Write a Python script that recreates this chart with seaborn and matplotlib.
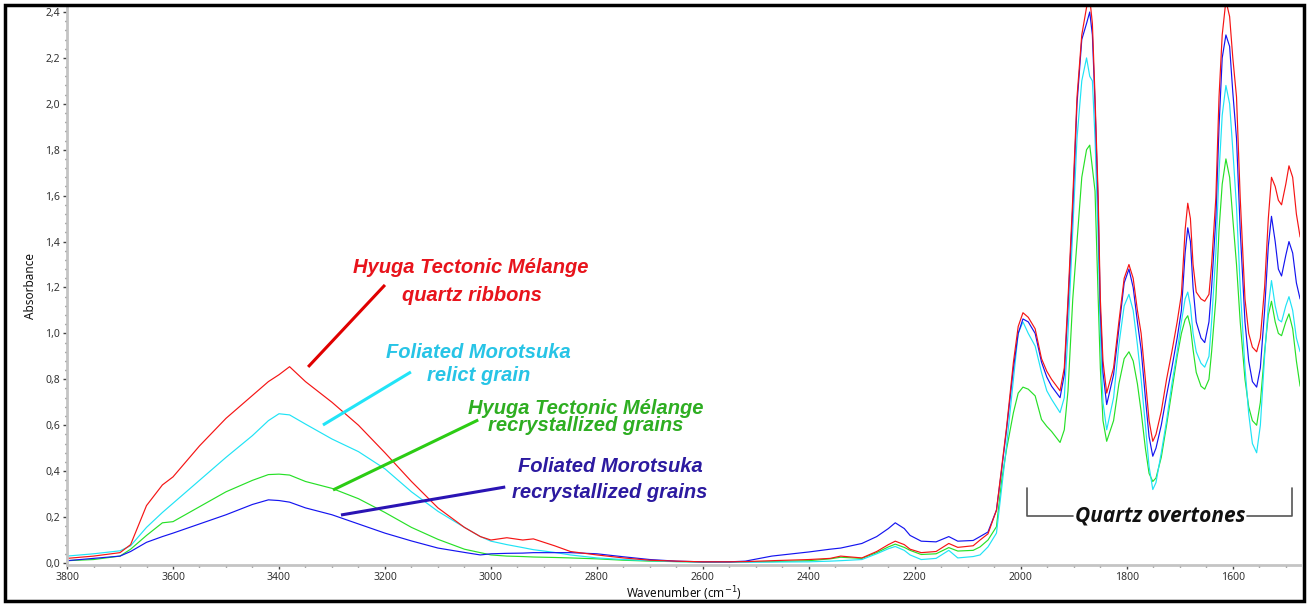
import numpy as np
import pandas as pd
import matplotlib
matplotlib.use("Agg")
import matplotlib.pyplot as plt
import matplotlib.ticker as mticker
from matplotlib.patches import Rectangle
import seaborn as sns

# Spectra (wavenumber in cm-1, absorbance)
wavenumber = [
    3800, 3750, 3700, 3680, 3650, 3620, 3600, 3550, 3500, 3450, 3420, 3400, 3380, 3350,
    3300, 3250, 3200, 3150, 3100, 3050, 3020, 3000, 2970, 2940, 2920, 2880, 2850, 2800,
    2750, 2700, 2650, 2600, 2550, 2520, 2470, 2400, 2360, 2340, 2300, 2272, 2250, 2237,
    2220, 2209, 2188, 2160, 2136, 2119, 2090, 2077, 2062, 2046, 2036, 2027, 2014, 2005,
    1996, 1986, 1973, 1961, 1951, 1942, 1926, 1918, 1911, 1902, 1894, 1885, 1876, 1870,
    1865, 1860, 1854, 1850, 1845, 1838, 1825, 1815, 1805, 1796, 1788, 1780, 1773, 1765,
    1758, 1751, 1745, 1735, 1725, 1715, 1705, 1697, 1690, 1685, 1680, 1675, 1669, 1660,
    1653, 1645, 1640, 1632, 1626, 1620, 1613, 1606, 1600, 1593, 1586, 1577, 1570, 1563,
    1555, 1548, 1540, 1533, 1527, 1520, 1514, 1508, 1500, 1494, 1487, 1480, 1473,
]

hyuga_ribbons = [
    0.02, 0.03, 0.045, 0.08, 0.25, 0.34, 0.375, 0.51, 0.63, 0.73, 0.79, 0.82, 0.855, 0.79,
    0.70, 0.60, 0.48, 0.355, 0.24, 0.155, 0.115, 0.10, 0.11, 0.10, 0.105, 0.075, 0.05, 0.035,
    0.022, 0.012, 0.008, 0.005, 0.005, 0.006, 0.01, 0.015, 0.02, 0.03, 0.022, 0.05, 0.08, 0.095,
    0.08, 0.06, 0.045, 0.05, 0.085, 0.068, 0.075, 0.10, 0.127, 0.23, 0.42, 0.59, 0.875, 1.03,
    1.09, 1.07, 1.02, 0.89, 0.835, 0.80, 0.75, 0.85, 1.15, 1.59, 2.03, 2.30, 2.42, 2.46,
    2.35, 2.03, 1.59, 1.15, 0.88, 0.74, 0.85, 1.05, 1.24, 1.30, 1.24, 1.10, 1.00, 0.80,
    0.62, 0.53, 0.56, 0.66, 0.80, 0.92, 1.05, 1.17, 1.45, 1.567, 1.50, 1.30, 1.18, 1.15,
    1.14, 1.17, 1.30, 1.59, 2.03, 2.30, 2.45, 2.38, 2.20, 2.03, 1.59, 1.15, 1.00, 0.94,
    0.92, 0.98, 1.20, 1.50, 1.68, 1.64, 1.58, 1.56, 1.65, 1.73, 1.68, 1.52, 1.42,
]

morotsuka_relict = [
    0.03, 0.04, 0.053, 0.075, 0.155, 0.22, 0.26, 0.36, 0.46, 0.555, 0.62, 0.65, 0.645, 0.605,
    0.54, 0.485, 0.41, 0.31, 0.225, 0.155, 0.115, 0.095, 0.08, 0.067, 0.058, 0.046, 0.035, 0.022,
    0.015, 0.01, 0.006, 0.004, 0.003, 0.003, 0.004, 0.005, 0.008, 0.01, 0.015, 0.04, 0.062, 0.072,
    0.055, 0.035, 0.015, 0.02, 0.055, 0.022, 0.028, 0.035, 0.07, 0.13, 0.33, 0.51, 0.80, 1.0,
    1.05, 1.0, 0.945, 0.83, 0.75, 0.713, 0.655, 0.72, 1.0, 1.45, 1.85, 2.10, 2.20, 2.12,
    2.10, 1.85, 1.40, 1.0, 0.70, 0.58, 0.72, 0.95, 1.12, 1.17, 1.10, 0.95, 0.80, 0.60,
    0.42, 0.32, 0.35, 0.48, 0.62, 0.78, 0.92, 1.05, 1.15, 1.18, 1.12, 1.0, 0.92, 0.87,
    0.853, 0.90, 1.05, 1.35, 1.70, 1.95, 2.08, 2.0, 1.80, 1.55, 1.20, 0.85, 0.65, 0.52,
    0.48, 0.60, 0.90, 1.12, 1.23, 1.12, 1.06, 1.05, 1.12, 1.16, 1.10, 0.98, 0.92,
]

hyuga_recryst = [
    0.01, 0.015, 0.03, 0.06, 0.12, 0.175, 0.18, 0.245, 0.31, 0.36, 0.385, 0.387, 0.383, 0.355,
    0.325, 0.28, 0.22, 0.155, 0.103, 0.06, 0.045, 0.035, 0.03, 0.028, 0.026, 0.024, 0.022, 0.018,
    0.012, 0.008, 0.006, 0.004, 0.004, 0.005, 0.006, 0.01, 0.018, 0.025, 0.02, 0.045, 0.07, 0.082,
    0.068, 0.055, 0.037, 0.04, 0.067, 0.052, 0.055, 0.07, 0.10, 0.158, 0.363, 0.495, 0.655, 0.74,
    0.766, 0.757, 0.728, 0.625, 0.595, 0.573, 0.525, 0.58, 0.75, 1.15, 1.40, 1.68, 1.80, 1.82,
    1.72, 1.62, 1.15, 0.85, 0.62, 0.53, 0.62, 0.78, 0.89, 0.92, 0.88, 0.78, 0.66, 0.50,
    0.39, 0.355, 0.37, 0.46, 0.60, 0.75, 0.90, 1.0, 1.06, 1.077, 1.03, 0.93, 0.83, 0.77,
    0.757, 0.80, 0.92, 1.15, 1.45, 1.65, 1.76, 1.68, 1.50, 1.30, 1.05, 0.80, 0.68, 0.62,
    0.60, 0.70, 0.92, 1.08, 1.14, 1.05, 1.00, 0.99, 1.05, 1.085, 1.02, 0.88, 0.77,
]

morotsuka_recryst = [
    0.01, 0.02, 0.03, 0.05, 0.09, 0.115, 0.13, 0.17, 0.21, 0.255, 0.275, 0.272, 0.265, 0.24,
    0.21, 0.17, 0.13, 0.096, 0.065, 0.046, 0.035, 0.04, 0.042, 0.043, 0.045, 0.045, 0.045, 0.04,
    0.027, 0.015, 0.008, 0.005, 0.005, 0.008, 0.03, 0.048, 0.06, 0.065, 0.085, 0.115, 0.15, 0.175,
    0.15, 0.12, 0.095, 0.092, 0.115, 0.095, 0.098, 0.115, 0.135, 0.23, 0.41, 0.58, 0.85, 1.0,
    1.063, 1.05, 1.0, 0.875, 0.81, 0.77, 0.72, 0.82, 1.12, 1.55, 2.0, 2.28, 2.35, 2.40,
    2.30, 2.0, 1.55, 1.10, 0.83, 0.69, 0.82, 1.02, 1.22, 1.28, 1.20, 1.05, 0.93, 0.72,
    0.55, 0.465, 0.50, 0.60, 0.73, 0.85, 0.98, 1.10, 1.35, 1.46, 1.40, 1.20, 1.05, 0.98,
    0.96, 1.05, 1.20, 1.50, 1.90, 2.20, 2.30, 2.25, 2.05, 1.85, 1.45, 1.05, 0.88, 0.79,
    0.766, 0.85, 1.10, 1.38, 1.51, 1.40, 1.28, 1.25, 1.34, 1.40, 1.35, 1.22, 1.15,
]

sample_names = ["hyuga_recryst", "morotsuka_relict", "morotsuka_recryst", "hyuga_ribbons"]
line_colors = ["#27e027", "#1fe3f5", "#1414f0", "#f51414"]

y_ticks = [0.0, 0.2, 0.4, 0.6, 0.8, 1.0, 1.2, 1.4, 1.6, 1.8, 2.0, 2.2, 2.4]
y_tick_labels = ["0,0", "0,2", "0,4", "0,6", "0,8", "1,0", "1,2", "1,4", "1,6", "1,8", "2,0", "2,2", "2,4"]
x_ticks = [3800, 3600, 3400, 3200, 3000, 2800, 2600, 2400, 2200, 2000, 1800, 1600]

series = {
    "hyuga_recryst": hyuga_recryst,
    "morotsuka_relict": morotsuka_relict,
    "morotsuka_recryst": morotsuka_recryst,
    "hyuga_ribbons": hyuga_ribbons,
}
df = pd.concat(
    [pd.DataFrame({"wavenumber": wavenumber, "absorbance": vals, "sample": name})
     for name, vals in series.items()],
    ignore_index=True)

sns.set_style("ticks")
plt.rcParams["font.family"] = ["Noto Sans", "DejaVu Sans"]

fig = plt.figure(figsize=(13.09, 6.06), dpi=100)
ax = fig.add_axes([0.0512, 0.0672, 0.942, 0.9206])

sns.lineplot(data=df, x="wavenumber", y="absorbance", hue="sample",
             hue_order=sample_names, palette=line_colors, estimator=None,
             linewidth=0.85, legend=False, ax=ax)

ax.set_xlim(3800, 1473)
ax.set_ylim(-0.01, 2.42)
ax.set_xticks(x_ticks)
ax.set_yticks(y_ticks)
ax.set_yticklabels(y_tick_labels)
ax.xaxis.set_minor_locator(mticker.MultipleLocator(50))
ax.yaxis.set_minor_locator(mticker.MultipleLocator(0.04))
ax.tick_params(which="major", length=3, width=1, color="#444444",
               labelsize=7.5, labelcolor="#333333", pad=2)
ax.tick_params(which="minor", length=1.5, width=1, color="#555555")

for side in ["top", "right"]:
    ax.spines[side].set_visible(False)
for side in ["left", "bottom"]:
    ax.spines[side].set_color("#c4c4c4")
    ax.spines[side].set_linewidth(2)

ax.set_xlabel("Wavenumber (cm$^{-1}$)", fontsize=8.5, color="#111111", labelpad=1)
ax.set_ylabel("Absorbance", fontsize=8.5, color="#111111", labelpad=6)

# Annotations
ann_font = dict(family=["Liberation Sans", "DejaVu Sans"],
                weight="bold", style="italic", ha="center", va="center")
ax.text(3038, 1.289, "Hyuga Tectonic Mélange", color="#e8141c", fontsize=14.5, **ann_font)
ax.text(3036, 1.163, "quartz ribbons", color="#e8141c", fontsize=14.5, **ann_font)
ax.plot([3345, 3200], [0.854, 1.211], color="#e00000", lw=2.2, solid_capstyle="butt")

ax.text(3024, 0.915, "Foliated Morotsuka", color="#27c4e6", fontsize=14.5, **ann_font)
ax.text(3024, 0.815, "relict grain", color="#27c4e6", fontsize=14.5, **ann_font)
ax.plot([3317, 3151], [0.601, 0.832], color="#22e4f7", lw=2.2, solid_capstyle="butt")

ax.text(2822, 0.675, "Hyuga Tectonic Mélange", color="#2eae22", fontsize=14.5, **ann_font)
ax.text(2822, 0.598, "recrystallized grains", color="#2eae22", fontsize=14.5, **ann_font)
ax.plot([3298, 3024], [0.318, 0.623], color="#2ccc14", lw=2.2, solid_capstyle="butt")

ax.text(2775, 0.422, "Foliated Morotsuka", color="#2c1aa0", fontsize=14.5, **ann_font)
ax.text(2775, 0.305, "recrystallized grains", color="#2c1aa0", fontsize=14.5, **ann_font)
ax.plot([3283, 2973], [0.209, 0.331], color="#2a14b4", lw=2.2, solid_capstyle="butt")

ax.text(1737, 0.205, "Quartz overtones", color="#111111", fontsize=15,
        family=["Open Sans", "DejaVu Sans"], weight="bold", style="italic",
        ha="center", va="center")
ax.plot([1988, 1988, 1902], [0.327, 0.205, 0.205], color="#555555", lw=1.2)
ax.plot([1573, 1488, 1488], [0.205, 0.205, 0.327], color="#555555", lw=1.2)

# Black frame around the whole picture
fig.patches.append(Rectangle((0.004, 0.008), 0.992, 0.984, transform=fig.transFigure,
                             fill=False, edgecolor="black", linewidth=2.5))

fig.savefig("out.png", dpi=100)
